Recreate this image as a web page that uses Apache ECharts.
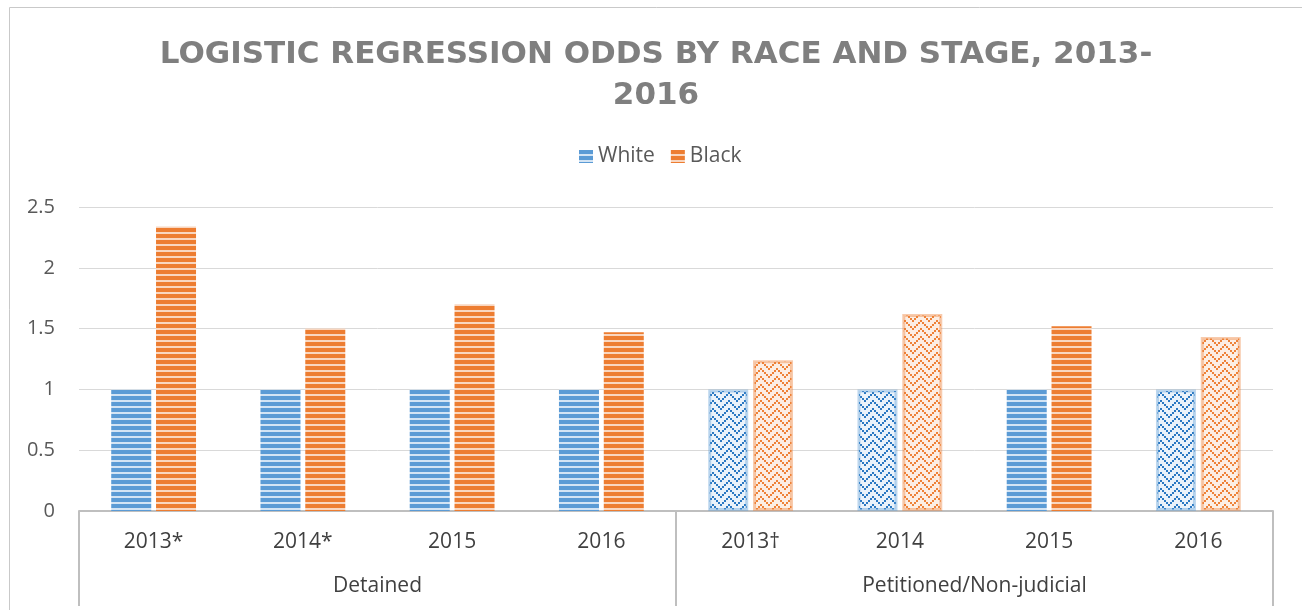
<!DOCTYPE html>
<html>
<head>
<meta charset="utf-8">
<script src="https://cdn.jsdelivr.net/npm/echarts@6/dist/echarts.min.js"></script>
<style>
  html, body { margin: 0; padding: 0; background: #fff; }
  #main { width: 1302px; height: 610px; }
</style>
</head>
<body>
<div id="main"></div>
<script>
  // data
  var years = ['2013*', '2014*', '2015', '2016', '2013\u2020', '2014', '2015', '2016'];
  var stages = ['Detained', 'Petitioned/Non-judicial'];
  var white = [1, 1, 1, 1, 1, 1, 1, 1];
  var black = [2.34, 1.50, 1.70, 1.47, 1.24, 1.62, 1.52, 1.43];
  // categories drawn with the zigzag fill instead of stripes
  var zigzagIdx = [4, 5, 7];

  var BLUE = '#5B9BD5', ORANGE = '#ED7D31';

  // horizontal stripe fill
  function stripe(base, light) {
    var c = document.createElement('canvas');
    c.width = 4; c.height = 6;
    var g = c.getContext('2d');
    g.fillStyle = base; g.fillRect(0, 0, 4, 6);
    g.fillStyle = light; g.fillRect(0, 4, 4, 2);
    return { image: c, repeat: 'repeat' };
  }
  // dotted zigzag fill on a pale ground
  function zigzag(base, ground) {
    var c = document.createElement('canvas');
    c.width = 16; c.height = 16;
    var g = c.getContext('2d');
    g.fillStyle = ground; g.fillRect(0, 0, 16, 16);
    g.fillStyle = base;
    for (var x = 0; x < 8; x++) {
      var y = Math.abs(x - 4);
      g.fillRect(x * 2, y * 2, 2, 2);
      g.fillRect(x * 2, ((y + 4) % 8) * 2, 2, 2);
    }
    return { image: c, repeat: 'repeat' };
  }

  var blueStripe = stripe(BLUE, '#D3E4F4');
  var orangeStripe = stripe(ORANGE, '#F9D6BF');
  var blueZig = zigzag('#2A78C2', '#EAF2FA');
  var orangeZig = zigzag('#EE8238', '#FCEEE4');

  function build(vals, zig, edge) {
    return vals.map(function (v, i) {
      if (zigzagIdx.indexOf(i) >= 0) {
        return { value: v, itemStyle: { color: zig, borderColor: edge, borderWidth: 3 } };
      }
      return v;
    });
  }

  var myChart = echarts.init(document.getElementById('main'));
  var option = {
    backgroundColor: '#fff',
    animation: false,
    title: {
      text: 'LOGISTIC REGRESSION ODDS BY RACE AND STAGE, 2013-\n2016',
      left: 651,
      top: 29,
      textAlign: 'center',
      textStyle: {
        fontFamily: 'DejaVu Sans',
        fontSize: 31,
        fontWeight: 'bold',
        color: '#7F7F7F',
        lineHeight: 41
      }
    },
    legend: {
      top: 141,
      left: 574,
      itemWidth: 14,
      itemHeight: 13,
      itemGap: 16,
      icon: 'rect',
      textStyle: { fontFamily: 'Open Sans', fontSize: 21, color: '#595959' },
      data: ['White', 'Black']
    },
    grid: { left: 79, right: 29, top: 207, bottom: 99 },
    xAxis: [
      {
        type: 'category',
        data: years,
        position: 'bottom',
        axisLine: { show: true, lineStyle: { color: '#BFBFBF', width: 2 } },
        axisTick: { show: false },
        axisLabel: { margin: 21, fontFamily: 'Open Sans', fontSize: 21, color: '#404040' }
      },
      {
        type: 'category',
        data: stages,
        position: 'bottom',
        axisLine: { show: false },
        axisTick: { show: true, length: 95, lineStyle: { color: '#BFBFBF', width: 2 } },
        axisLabel: { margin: 65, fontFamily: 'Open Sans', fontSize: 21, color: '#404040' }
      }
    ],
    yAxis: {
      type: 'value',
      min: 0,
      max: 2.5,
      interval: 0.5,
      axisLine: { show: false },
      axisTick: { show: false },
      axisLabel: { margin: 24, fontFamily: 'Open Sans', fontSize: 20, color: '#595959' },
      splitLine: { lineStyle: { color: '#D9D9D9', width: 1 } }
    },
    graphic: [{
      type: 'rect',
      shape: { x: 9.5, y: 7.5, width: 1300, height: 610 },
      style: { fill: 'none', stroke: '#C9C9C9', lineWidth: 1 },
      silent: true
    }],
    series: [
      {
        name: 'White',
        type: 'bar',
        barWidth: 40,
        barGap: '12%',
        itemStyle: { color: blueStripe },
        data: build(white, blueZig, 'rgba(91,155,213,0.4)')
      },
      {
        name: 'Black',
        type: 'bar',
        barWidth: 40,
        itemStyle: { color: orangeStripe },
        data: build(black, orangeZig, 'rgba(237,125,49,0.4)')
      }
    ]
  };
  myChart.setOption(option);
</script>
</body>
</html>
